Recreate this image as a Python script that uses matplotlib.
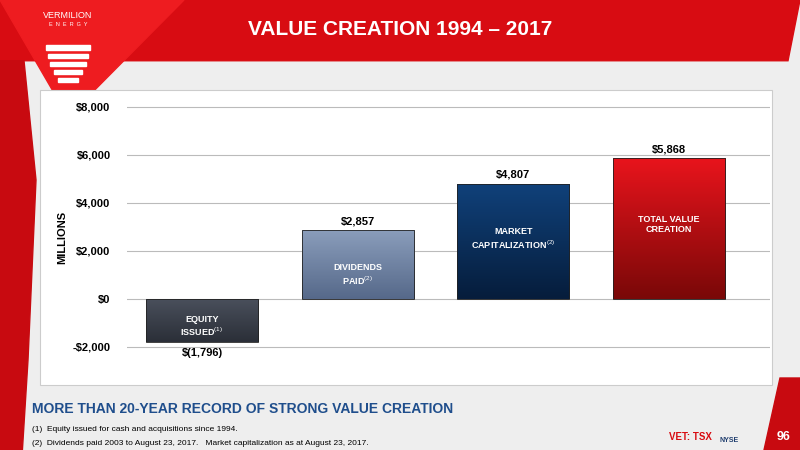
import matplotlib.pyplot as plt
import matplotlib.patches as mpatches
import numpy as np

# data
categories = ['EQUITY\nISSUED$^{(1)}$', 'DIVIDENDS\nPAID$^{(2)}$',
              'MARKET\nCAPITALIZATION$^{(2)}$', 'TOTAL VALUE\nCREATION']
values = [-1796, 2857, 4807, 5868]
value_labels = ['$(1,796)', '$2,857', '$4,807', '$5,868']
yticks = [-2000, 0, 2000, 4000, 6000, 8000]
ytick_labels = ['-$2,000', '$0', '$2,000', '$4,000', '$6,000', '$8,000']

# gradient colours top -> bottom
grads = [('#4a505c', '#2b2f38'), ('#8a9dbb', '#56698a'),
         ('#10417a', '#061d3c'), ('#e8141c', '#7a0808')]

plt.rcParams['font.family'] = ['Liberation Sans', 'DejaVu Sans']
plt.rcParams['mathtext.fontset'] = 'custom'
plt.rcParams['mathtext.rm'] = 'Liberation Sans'
plt.rcParams['mathtext.it'] = 'Liberation Sans'

fig = plt.figure(figsize=(8, 4.5), dpi=100)
fig.patch.set_facecolor('#eeeeee')

# header band and side decorations
fig.patches.append(mpatches.Polygon([[0, 1], [1, 1], [0.985, 0.865], [0, 0.865]],
                                    closed=True, transform=fig.transFigure, color='#d80c12', zorder=0))
fig.patches.append(mpatches.Polygon([[0, 1], [0.23, 1], [0.085, 0.74]],
                                    closed=True, transform=fig.transFigure, color='#ee1c20', zorder=1))
fig.patches.append(mpatches.Polygon([[0, 0.865], [0.03, 0.865], [0.045, 0.6], [0.035, 0.2], [0.028, 0], [0, 0]],
                                    closed=True, transform=fig.transFigure, color='#c80a10', zorder=0))
fig.patches.append(mpatches.Polygon([[1, 0.16], [1, 0], [0.955, 0], [0.975, 0.16]],
                                    closed=True, transform=fig.transFigure, color='#c80a10', zorder=0))
fig.patches.append(mpatches.Rectangle((0.05, 0.145), 0.915, 0.655, transform=fig.transFigure,
                                      facecolor='white', edgecolor='#cccccc', lw=0.8, zorder=1))
fig.text(0.085, 0.965, 'VERMILION', color='white', fontsize=6.5, ha='center', va='center')
fig.text(0.085, 0.945, 'E  N  E  R  G  Y', color='white', fontsize=4, ha='center', va='center')
for i, w in enumerate([0.055, 0.05, 0.045, 0.035, 0.025]):
    fig.patches.append(mpatches.Rectangle((0.085 - w / 2, 0.89 - i * 0.018), w, 0.009,
                                          transform=fig.transFigure, color='white', zorder=2))
fig.text(0.5, 0.935, 'VALUE CREATION 1994 – 2017', color='white', fontsize=15,
         fontweight='bold', ha='center', va='center')

ax = fig.add_axes([0.159, 0.145, 0.804, 0.655])
ax.set_facecolor('none')
ax.set_zorder(3)
ax.set_xlim(-0.48, 3.65)
ax.set_ylim(-3583, 8708)
ax.set_yticks(yticks)
ax.set_yticklabels(ytick_labels, fontsize=8, fontweight='bold')
ax.tick_params(length=0, pad=12)
ax.set_xticks([])
for s in ax.spines.values():
    s.set_visible(False)
ax.grid(axis='y', color='#bbbbbb', lw=0.8)
ax.set_axisbelow(True)
ax.set_ylabel('MILLIONS', fontsize=8, fontweight='bold', labelpad=4)

width = 0.72
for i, (v, lab, cat, (ct, cb)) in enumerate(zip(values, value_labels, categories, grads)):
    rect = mpatches.Rectangle((i - width / 2, min(0, v)), width, abs(v), facecolor='none',
                              edgecolor='#222222', lw=0.6, zorder=3)
    ax.add_patch(rect)
    c1 = np.array(plt.matplotlib.colors.to_rgb(ct))
    c2 = np.array(plt.matplotlib.colors.to_rgb(cb))
    t = np.linspace(0, 1, 64)[:, None]
    img = (c1 * (1 - t) + c2 * t)[:, None, :]
    im = ax.imshow(img, extent=(i - width / 2, i + width / 2, min(0, v), max(0, v)),
                   aspect='auto', zorder=2, origin='upper')
    im.set_clip_path(rect)
    if v > 0:
        ax.text(i, v + 150, lab, ha='center', va='bottom', fontsize=8, fontweight='bold')
    else:
        ax.text(i, v - 250, lab, ha='center', va='top', fontsize=8, fontweight='bold')
    cy = {0: -1150, 1: 1000, 2: 2500, 3: 3100}[i]
    ax.text(i, cy, cat, ha='center', va='center', fontsize=6.5, fontweight='bold', color='white')

fig.text(0.04, 0.092, 'MORE THAN 20-YEAR RECORD OF STRONG VALUE CREATION', color='#1f4e8c',
         fontsize=10, fontweight='bold', va='center')
fig.text(0.04, 0.045, '(1)  Equity issued for cash and acquisitions since 1994.', fontsize=6, va='center')
fig.text(0.04, 0.015, '(2)  Dividends paid 2003 to August 23, 2017.   Market capitalization as at August 23, 2017.',
         fontsize=6, va='center')
fig.text(0.89, 0.03, 'VET: TSX', color='#d80c12', fontsize=7, fontweight='bold', va='center', ha='right')
fig.text(0.9, 0.02, 'NYSE', color='#1f3d6e', fontsize=5, fontweight='bold', va='center')
fig.text(0.98, 0.03, '96', color='white', fontsize=9, fontweight='bold', va='center', ha='center', zorder=5)

fig.savefig('out.png', dpi=100, facecolor=fig.get_facecolor())
